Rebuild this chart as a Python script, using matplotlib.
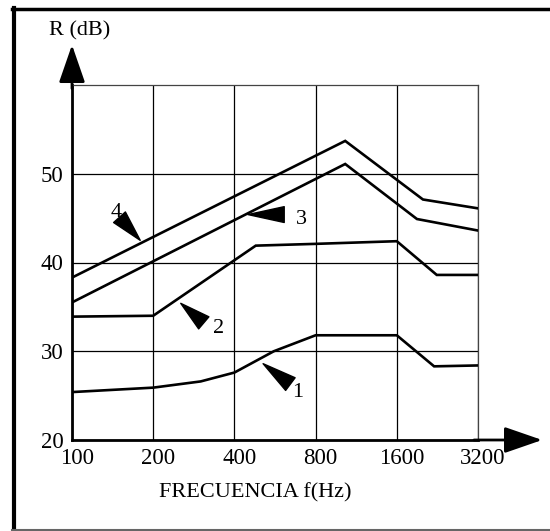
import matplotlib
matplotlib.use('Agg')
import matplotlib.pyplot as plt
from matplotlib.lines import Line2D
from matplotlib.transforms import ScaledTranslation

plt.rcParams['font.family'] = ['Liberation Serif', 'DejaVu Serif']

# curves: frequency (Hz) and sound reduction index R (dB)
freq1 = [100, 200, 300, 400, 560, 800, 1600, 2200, 3200]
r1 = [25.4, 25.9, 26.6, 27.6, 30.0, 31.8, 31.8, 28.3, 28.4]
freq2 = [100, 200, 480, 800, 1600, 2250, 3200]
r2 = [33.9, 34.0, 41.9, 42.1, 42.4, 38.6, 38.6]
freq3 = [100, 1030, 1900, 3200]
r3 = [35.5, 51.1, 44.9, 43.6]
freq4 = [100, 1030, 2000, 3200]
r4 = [38.3, 53.7, 47.1, 46.1]

xticks = [100, 200, 400, 800, 1600, 3200]
yticks = [20, 30, 40, 50]

# curve labels: label text, label position, wedge tail, wedge tip
labels = ['1', '2', '3', '4']
label_f = [688, 348, 707, 146]
label_r = [25.4, 32.6, 44.8, 45.6]
tail_f = [645, 308, 612, 150]
tail_r = [26.3, 33.2, 45.4, 45.1]
tip_f = [511, 253, 449, 179]
tip_r = [28.6, 35.4, 45.4, 42.5]

fig = plt.figure(figsize=(5.5, 5.31), dpi=100)
ax = fig.add_axes([72/550, 91/531, 406/550, 355/531])

for f, r in [(freq1, r1), (freq2, r2), (freq3, r3), (freq4, r4)]:
    ax.plot(f, r, color='black', lw=1.9, solid_joinstyle='miter', zorder=3)

ax.set_xscale('log')
ax.set_xlim(100, 3200)
ax.set_ylim(20, 60)
ax.set_xticks(xticks)
ax.set_xticklabels([str(v) for v in xticks])
ax.minorticks_off()
ax.set_yticks(yticks)
ax.tick_params(length=0, labelsize=16.5, pad=6)
ax.grid(True, color='black', lw=0.9)
for lab in ax.get_xticklabels():
    lab.set_transform(lab.get_transform() + ScaledTranslation(5/100, 0, fig.dpi_scale_trans))

for s in ['top', 'right']:
    ax.spines[s].set_linewidth(0.9)
    ax.spines[s].set_color('#444444')
for s in ['left', 'bottom']:
    ax.spines[s].set_linewidth(2)

# axis arrows
ax.annotate('', xy=(0, 1.113), xytext=(0, 0.99), xycoords='axes fraction',
            arrowprops=dict(arrowstyle='-|>,head_length=1.3,head_width=0.45',
                            lw=2, color='black', mutation_scale=18,
                            shrinkA=0, shrinkB=0))
ax.annotate('', xy=(1.158, 0), xytext=(0.99, 0), xycoords='axes fraction',
            arrowprops=dict(arrowstyle='-|>,head_length=1.3,head_width=0.45',
                            lw=2, color='black', mutation_scale=18,
                            shrinkA=0, shrinkB=0))

# curve labels with wedge pointers
for i in range(len(labels)):
    ax.annotate('', xy=(tip_f[i], tip_r[i]), xytext=(tail_f[i], tail_r[i]),
                arrowprops=dict(arrowstyle='wedge,tail_width=0.6,shrink_factor=0.5',
                                color='black', mutation_scale=19,
                                shrinkA=0, shrinkB=0), zorder=4)
    ax.text(label_f[i], label_r[i], labels[i], fontsize=16,
            ha='center', va='center', zorder=5)

fig.text(80/550, 1 - 31/531, 'R (dB)', fontsize=16, ha='center', va='center')
fig.text(255/550, 1 - 493/531, 'FRECUENCIA f(Hz)', fontsize=16,
         ha='center', va='center')

# outer frame
fig.add_artist(Line2D([13.5/550, 13.5/550], [1 - 8/531, 1 - 530/531],
                      transform=fig.transFigure, color='black', lw=3))
fig.add_artist(Line2D([12/550, 1.0], [1 - 9/531, 1 - 9/531],
                      transform=fig.transFigure, color='black', lw=2.5))
fig.add_artist(Line2D([12/550, 1.0], [1 - 529.5/531, 1 - 529.5/531],
                      transform=fig.transFigure, color='#666666', lw=1.5))

fig.savefig('out.png', dpi=100)
